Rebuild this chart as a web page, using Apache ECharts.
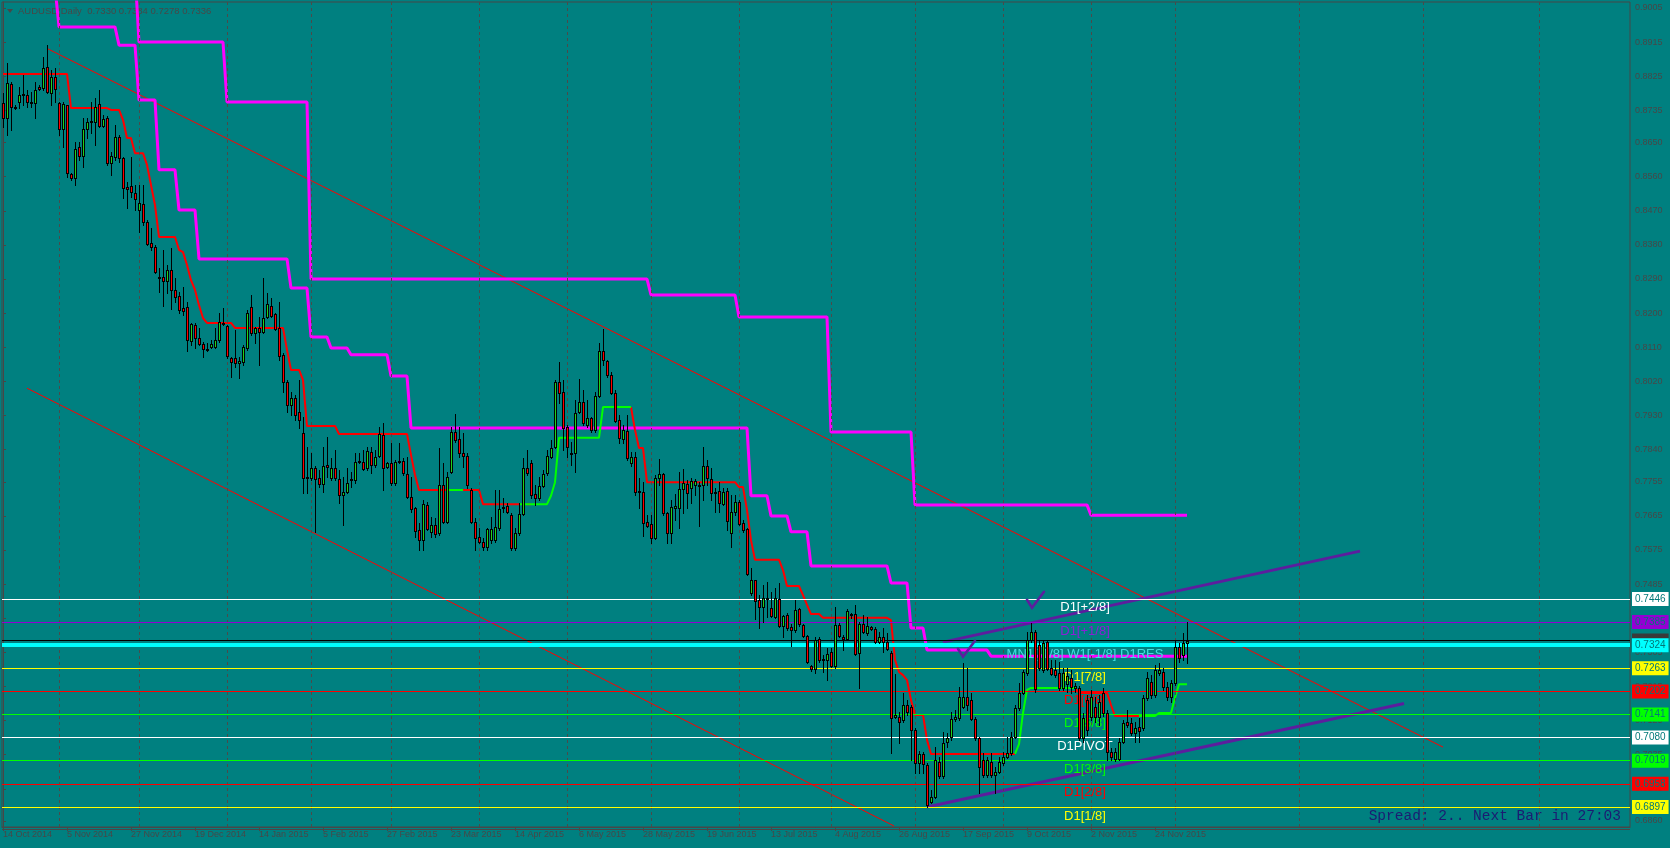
<!DOCTYPE html>
<html><head><meta charset="utf-8">
<script src="https://cdn.jsdelivr.net/npm/echarts@6/dist/echarts.min.js"></script>
<style>html,body{margin:0;padding:0;background:#008080;}#c{width:1670px;height:848px;}</style>
</head><body><div id="c"></div><script>
// ---------------- data ----------------
const symbolName = 'AUDUSD';
const periodName = 'Daily';
const firstDate = '2014-10-14';
const holidays = ['2014-12-25', '2015-01-01'];

const open = [0.8754,0.8715,0.8804,0.8744,0.8757,0.8775,0.8775,0.8757,0.8754,0.8797,0.8794,0.8849,0.8781,0.8823,0.8754,0.8686,0.8749,0.8567,0.8557,0.8638,
0.8615,0.8686,0.8704,0.8704,0.8752,0.8694,0.8715,0.8596,0.8612,0.8665,0.8609,0.8533,0.8535,0.8517,0.8472,0.8488,0.8440,0.8385,0.8374,0.8295,
0.8295,0.8285,0.8314,0.8261,0.8245,0.8214,0.8216,0.8126,0.8169,0.8134,0.8118,0.8105,0.8111,0.8111,0.8129,0.8174,0.8166,0.8082,0.8082,0.8068,
0.8071,0.8108,0.8216,0.8148,0.8161,0.8150,0.8190,0.8219,0.8198,0.8161,0.8090,0.8018,0.7958,0.7976,0.7939,0.7884,0.7768,0.7765,0.7791,0.7765,
0.7749,0.7799,0.7765,0.7791,0.7762,0.7720,0.7728,0.7762,0.7760,0.7810,0.7807,0.7791,0.7834,0.7799,0.7823,0.7878,0.7794,0.7805,0.7752,0.7810,
0.7810,0.7776,0.7715,0.7686,0.7628,0.7601,0.7694,0.7623,0.7641,0.7620,0.7747,0.7649,0.7781,0.7886,0.7868,0.7831,0.7823,0.7733,0.7649,0.7609,
0.7596,0.7583,0.7601,0.7601,0.7633,0.7686,0.7691,0.7667,0.7580,0.7620,0.7670,0.7791,0.7805,0.7723,0.7712,0.7744,0.7778,0.7820,0.7847,0.8018,
0.7992,0.7900,0.7831,0.7831,0.7939,0.7965,0.7905,0.7923,0.7892,0.7981,0.8100,0.8074,0.8037,0.7989,0.7918,0.7868,0.7889,0.7805,0.7820,0.7731,
0.7728,0.7649,0.7644,0.7607,0.7765,0.7776,0.7673,0.7620,0.7686,0.7686,0.7736,0.7749,0.7739,0.7747,0.7747,0.7747,0.7797,0.7762,0.7725,0.7731,
0.7696,0.7731,0.7620,0.7675,0.7702,0.7646,0.7630,0.7462,0.7496,0.7443,0.7425,0.7448,0.7422,0.7398,0.7446,0.7375,0.7404,0.7372,0.7364,0.7419,
0.7377,0.7348,0.7269,0.7261,0.7340,0.7288,0.7285,0.7306,0.7269,0.7377,0.7345,0.7340,0.7406,0.7406,0.7303,0.7380,0.7356,0.7372,0.7367,0.7332,
0.7345,0.7332,0.7303,0.7134,0.7134,0.7127,0.7166,0.7161,0.7100,0.7013,0.7037,0.7008,0.6910,0.6923,0.7016,0.6979,0.7068,0.7082,0.7129,0.7132,
0.7161,0.7187,0.7179,0.7129,0.7079,0.7021,0.6981,0.7016,0.6981,0.6989,0.7013,0.7029,0.7039,0.7082,0.7158,0.7198,0.7251,0.7338,0.7359,0.7324,
0.7258,0.7332,0.7264,0.7258,0.7251,0.7211,0.7221,0.7237,0.7211,0.7211,0.7079,0.7179,0.7134,0.7161,0.7134,0.7198,0.7145,0.7042,0.7024,0.7024,
0.7068,0.7121,0.7119,0.7092,0.7108,0.7105,0.7185,0.7227,0.7192,0.7251,0.7253,0.7214,0.7187,0.7224,0.7319,0.7298,0.7330];

const close = [0.8715,0.8807,0.8744,0.8741,0.8775,0.8778,0.8757,0.8754,0.8789,0.8791,0.8847,0.8783,0.8823,0.8791,0.8686,0.8752,0.8570,0.8557,0.8633,0.8615,
0.8686,0.8704,0.8707,0.8744,0.8694,0.8712,0.8596,0.8615,0.8665,0.8609,0.8530,0.8527,0.8520,0.8501,0.8491,0.8440,0.8382,0.8374,0.8308,0.8293,
0.8285,0.8314,0.8261,0.8243,0.8208,0.8206,0.8129,0.8171,0.8134,0.8118,0.8105,0.8103,0.8118,0.8129,0.8177,0.8171,0.8087,0.8071,0.8068,0.8074,
0.8111,0.8200,0.8148,0.8161,0.8150,0.8187,0.8224,0.8192,0.8158,0.8087,0.8018,0.7958,0.7976,0.7931,0.7918,0.7765,0.7765,0.7791,0.7762,0.7749,
0.7797,0.7794,0.7791,0.7765,0.7720,0.7728,0.7752,0.7760,0.7807,0.7807,0.7789,0.7836,0.7799,0.7820,0.7881,0.7791,0.7805,0.7752,0.7807,0.7807,
0.7778,0.7715,0.7683,0.7625,0.7601,0.7696,0.7630,0.7641,0.7617,0.7747,0.7649,0.7768,0.7886,0.7865,0.7831,0.7823,0.7747,0.7649,0.7607,0.7596,
0.7583,0.7630,0.7630,0.7636,0.7683,0.7688,0.7675,0.7580,0.7620,0.7670,0.7791,0.7778,0.7720,0.7712,0.7744,0.7776,0.7823,0.7844,0.8018,0.7989,
0.7897,0.7847,0.7828,0.7937,0.7965,0.7910,0.7923,0.7892,0.7981,0.8100,0.8076,0.8037,0.7989,0.7915,0.7871,0.7892,0.7818,0.7820,0.7728,0.7728,
0.7646,0.7638,0.7607,0.7765,0.7776,0.7673,0.7620,0.7688,0.7691,0.7736,0.7752,0.7725,0.7757,0.7757,0.7744,0.7797,0.7765,0.7725,0.7728,0.7699,
0.7728,0.7652,0.7675,0.7702,0.7644,0.7628,0.7512,0.7496,0.7440,0.7425,0.7448,0.7446,0.7401,0.7448,0.7375,0.7401,0.7369,0.7364,0.7417,0.7380,
0.7348,0.7280,0.7261,0.7338,0.7285,0.7285,0.7301,0.7269,0.7377,0.7348,0.7340,0.7414,0.7404,0.7301,0.7380,0.7359,0.7375,0.7367,0.7332,0.7345,
0.7332,0.7314,0.7132,0.7140,0.7121,0.7166,0.7148,0.7100,0.7013,0.7037,0.7010,0.6902,0.6923,0.7021,0.6979,0.7066,0.7079,0.7129,0.7134,0.7187,
0.7187,0.7166,0.7129,0.7079,0.7002,0.6981,0.7021,0.6981,0.6989,0.7016,0.7029,0.7039,0.7082,0.7158,0.7198,0.7253,0.7338,0.7359,0.7208,0.7264,
0.7330,0.7261,0.7248,0.7245,0.7211,0.7251,0.7243,0.7214,0.7216,0.7079,0.7132,0.7100,0.7187,0.7134,0.7174,0.7145,0.7042,0.7029,0.7042,0.7068,
0.7119,0.7113,0.7092,0.7105,0.7097,0.7185,0.7237,0.7192,0.7258,0.7258,0.7214,0.7187,0.7224,0.7319,0.7290,0.7330,0.7336];

const high = [0.8781,0.8860,0.8810,0.8749,0.8797,0.8828,0.8789,0.8783,0.8810,0.8802,0.8876,0.8907,0.8841,0.8847,0.8757,0.8757,0.8749,0.8570,0.8651,0.8651,
0.8715,0.8715,0.8757,0.8768,0.8789,0.8723,0.8720,0.8625,0.8696,0.8670,0.8612,0.8546,0.8612,0.8538,0.8538,0.8538,0.8446,0.8425,0.8380,0.8319,
0.8367,0.8327,0.8372,0.8293,0.8256,0.8269,0.8229,0.8174,0.8174,0.8161,0.8124,0.8121,0.8129,0.8161,0.8200,0.8214,0.8169,0.8084,0.8155,0.8084,
0.8116,0.8208,0.8248,0.8163,0.8190,0.8293,0.8253,0.8240,0.8200,0.8229,0.8095,0.8024,0.7992,0.7984,0.8024,0.7926,0.7847,0.7831,0.7797,0.7786,
0.7847,0.7873,0.7818,0.7839,0.7786,0.7768,0.7791,0.7781,0.7831,0.7831,0.7839,0.7847,0.7847,0.7839,0.7900,0.7910,0.7807,0.7857,0.7812,0.7857,
0.7818,0.7820,0.7768,0.7688,0.7646,0.7707,0.7702,0.7662,0.7659,0.7844,0.7805,0.7781,0.7900,0.7934,0.7900,0.7884,0.7831,0.7739,0.7659,0.7633,
0.7607,0.7633,0.7662,0.7733,0.7733,0.7712,0.7699,0.7673,0.7633,0.7699,0.7818,0.7839,0.7812,0.7747,0.7768,0.7786,0.7839,0.7865,0.8024,0.8071,
0.8024,0.7905,0.7860,0.7971,0.8026,0.7997,0.7971,0.7926,0.7992,0.8121,0.8158,0.8076,0.8045,0.7997,0.7931,0.7905,0.7931,0.7834,0.7834,0.7765,
0.7754,0.7667,0.7667,0.7773,0.7815,0.7778,0.7675,0.7707,0.7723,0.7781,0.7789,0.7760,0.7765,0.7762,0.7754,0.7847,0.7812,0.7791,0.7739,0.7754,
0.7739,0.7739,0.7720,0.7720,0.7707,0.7654,0.7633,0.7528,0.7496,0.7456,0.7483,0.7491,0.7464,0.7475,0.7488,0.7404,0.7409,0.7380,0.7443,0.7422,
0.7380,0.7351,0.7272,0.7345,0.7345,0.7298,0.7316,0.7316,0.7425,0.7382,0.7351,0.7419,0.7409,0.7430,0.7385,0.7404,0.7398,0.7375,0.7372,0.7359,
0.7369,0.7356,0.7309,0.7248,0.7148,0.7198,0.7179,0.7166,0.7105,0.7045,0.7042,0.7013,0.6942,0.7055,0.7029,0.7095,0.7092,0.7148,0.7153,0.7214,
0.7277,0.7264,0.7198,0.7134,0.7082,0.7039,0.7029,0.7039,0.7002,0.7029,0.7042,0.7082,0.7095,0.7166,0.7224,0.7258,0.7359,0.7382,0.7364,0.7338,
0.7338,0.7338,0.7285,0.7285,0.7280,0.7264,0.7264,0.7258,0.7224,0.7216,0.7145,0.7192,0.7206,0.7187,0.7192,0.7211,0.7153,0.7053,0.7053,0.7079,
0.7127,0.7153,0.7132,0.7121,0.7132,0.7192,0.7253,0.7245,0.7272,0.7277,0.7264,0.7227,0.7232,0.7338,0.7330,0.7356,0.7384];

const low = [0.8691,0.8670,0.8683,0.8739,0.8741,0.8749,0.8744,0.8744,0.8715,0.8789,0.8789,0.8781,0.8749,0.8757,0.8670,0.8638,0.8559,0.8551,0.8538,0.8604,
0.8586,0.8662,0.8675,0.8644,0.8691,0.8691,0.8591,0.8564,0.8604,0.8599,0.8504,0.8477,0.8506,0.8472,0.8414,0.8432,0.8380,0.8367,0.8306,0.8256,
0.8219,0.8253,0.8211,0.8229,0.8200,0.8195,0.8100,0.8116,0.8108,0.8116,0.8084,0.8100,0.8108,0.8108,0.8124,0.8169,0.8082,0.8031,0.8058,0.8029,
0.8063,0.8103,0.8142,0.8121,0.8063,0.8148,0.8187,0.8190,0.8155,0.8076,0.7992,0.7939,0.7931,0.7918,0.7897,0.7725,0.7725,0.7760,0.7623,0.7741,
0.7728,0.7768,0.7760,0.7760,0.7699,0.7641,0.7725,0.7741,0.7752,0.7805,0.7786,0.7786,0.7778,0.7794,0.7820,0.7733,0.7791,0.7747,0.7747,0.7805,
0.7773,0.7712,0.7675,0.7609,0.7575,0.7575,0.7628,0.7609,0.7609,0.7615,0.7646,0.7646,0.7778,0.7860,0.7820,0.7794,0.7739,0.7646,0.7575,0.7594,
0.7575,0.7575,0.7594,0.7596,0.7628,0.7675,0.7673,0.7575,0.7575,0.7615,0.7667,0.7773,0.7712,0.7694,0.7707,0.7741,0.7773,0.7818,0.7844,0.7963,
0.7839,0.7820,0.7799,0.7781,0.7937,0.7905,0.7900,0.7886,0.7886,0.7979,0.8063,0.8031,0.7987,0.7913,0.7857,0.7857,0.7812,0.7797,0.7720,0.7686,
0.7612,0.7636,0.7594,0.7604,0.7747,0.7667,0.7594,0.7594,0.7654,0.7633,0.7673,0.7686,0.7699,0.7720,0.7638,0.7707,0.7747,0.7707,0.7675,0.7675,
0.7694,0.7628,0.7583,0.7667,0.7641,0.7623,0.7509,0.7456,0.7393,0.7369,0.7385,0.7398,0.7398,0.7396,0.7372,0.7345,0.7364,0.7322,0.7359,0.7375,
0.7345,0.7277,0.7256,0.7251,0.7280,0.7253,0.7232,0.7266,0.7264,0.7345,0.7311,0.7338,0.7396,0.7298,0.7211,0.7356,0.7351,0.7364,0.7330,0.7330,
0.7306,0.7311,0.7039,0.7132,0.7066,0.7121,0.7140,0.7021,0.6987,0.6987,0.6987,0.6897,0.6908,0.6921,0.6974,0.6974,0.7055,0.7074,0.7124,0.7127,
0.7158,0.7153,0.7127,0.7074,0.6934,0.6976,0.6976,0.6976,0.6934,0.6987,0.7008,0.7026,0.7034,0.7079,0.7153,0.7195,0.7245,0.7332,0.7200,0.7258,
0.7253,0.7258,0.7245,0.7240,0.7206,0.7206,0.7200,0.7198,0.7200,0.7074,0.7068,0.7087,0.7127,0.7121,0.7113,0.7137,0.7021,0.7021,0.7018,0.7021,
0.7066,0.7108,0.7087,0.7068,0.7068,0.7100,0.7179,0.7185,0.7187,0.7245,0.7206,0.7179,0.7174,0.7219,0.7280,0.7285,0.7278];

// step indicator lines: [firstBar, lastBar, value]
const magentaInnerSteps = [[0,13,0.9060],[14,28,0.8955],[29,33,0.8907],[34,38,0.8762],[39,43,0.8578],[44,48,0.8472],[49,71,0.8343],[72,76,0.8266],
  [77,81,0.8137],[82,86,0.8108],[87,96,0.8090],[97,101,0.8034],[102,186,0.7897],[187,191,0.7718],[192,196,0.7665],[197,201,0.7623],[202,221,0.7533],
  [222,226,0.7488],[227,230,0.7369],[231,246,0.7311],[247,296,0.7295]];
const magentaOuterSteps = [[0,33,0.9100],[34,55,0.8915],[56,76,0.8757],[77,161,0.8290],[162,183,0.8248],[184,206,0.8190],[207,227,0.7886],[228,271,0.7694],[272,296,0.7667]];
const trailRedSteps = [[0,16,0.8831],[17,26,0.8741],[27,29,0.8736],[30,30,0.8710],[31,32,0.8662],[33,35,0.8622],[36,36,0.8591],[37,37,0.8538],[38,38,0.8485],
  [39,43,0.8401],[44,44,0.8367],[45,45,0.8361],[46,46,0.8327],[47,47,0.8287],[48,48,0.8261],[49,49,0.8221],[50,50,0.8187],[51,57,0.8174],[58,70,0.8161],
  [71,71,0.8103],[72,74,0.8050],[75,75,0.8024],[76,83,0.7902],[84,101,0.7881],[102,102,0.7826],[103,103,0.7773],[104,111,0.7733],
  [115,119,0.7733],[120,129,0.7696],[131,132,0.7696],
  [157,157,0.7952],[158,158,0.7892],[159,160,0.7844],[161,183,0.7754],[184,185,0.7741],[186,186,0.7681],[187,187,0.7601],[188,194,0.7549],[195,195,0.7522],
  [196,199,0.7480],[200,200,0.7456],[201,201,0.7430],[202,204,0.7406],[205,221,0.7396],[222,222,0.7390],[223,223,0.7285],[224,224,0.7253],[225,225,0.7245],
  [226,226,0.7232],[227,227,0.7179],[228,230,0.7140],[231,231,0.7074],[232,253,0.7037],
  [268,268,0.7211],[269,276,0.7198],[277,277,0.7166],[278,284,0.7137]];
const trailGreenSteps = [[111,115,0.7733],[129,131,0.7696],[132,136,0.7696],[137,137,0.7718],[138,138,0.7754],[139,149,0.7871],[150,157,0.7952],
  [253,253,0.7037],[254,254,0.7063],[255,255,0.7145],[256,256,0.7206],[257,268,0.7211],
  [284,288,0.7137],[289,292,0.7145],[293,293,0.7185],[294,296,0.7221]];

// drawn lines: [bar, price] end points
const channelUpper = [[11.25,0.8897],[360,0.7055]];
const channelLower = [[6,0.8002],[222.75,0.6847]];
const risingLower = [[231,0.6897],[350.25,0.7170]];
const risingUpper = [[235,0.7332],[339.25,0.7572]];
const checkMarks = [[258,0.7441],[240.75,0.7312]];

// Murrey levels
const levelValues = [0.7446,0.7385,0.7324,0.7263,0.7202,0.7141,0.7080,0.7019,0.6958,0.6897];
const levelNames = ['D1[+2/8]','D1[+1/8]','MN1[-1/8] W1[-1/8] D1RES','D1[7/8]','D1[6/8]','D1[5/8]','D1PIVOT','D1[3/8]','D1[2/8]','D1[1/8]'];
const levelLabelBar = 270.5;
const bidPrice = 0.7336;

// axes
const priceTicks = [0.9005,0.8915,0.8825,0.8735,0.8650,0.8560,0.8470,0.8380,0.8290,0.8200,0.8110,0.8020,0.7930,0.7840,0.7755,0.7665,0.7575,0.7485,0.7395,0.7305,0.7215,0.7125,0.7035,0.6945,0.6860];
const priceMin = 0.68442, priceMax = 0.90208;
const barMin = -0.25, barMax = 406.75;
const dateLabelStep = 16;
const spreadText = 'Spread: 2.. Next Bar in 27:03';

// ---------------- styles ----------------
const levelColors = ['#ffffff','#9400d3','#00ffff','#ffff00','#ff0000','#00ff00','#ffffff','#00ff00','#ff0000','#ffff00'];
const levelTextColors = ['#ffffff','#8a1fd6','#40e0e0','#ffff00','#ff0000','#00ff00','#ffffff','#00ff00','#ff0000','#ffff00'];
const levelWidths = [1,1,4,1,1,1,1,1,1,1];
const axisColor = '#474747';
const bullColor = '#1ed21e', bearColor = '#ff0000';
const purple = '#5c1e9e';

// ---------------- derived ----------------
const nBars = open.length;
const MON = ['Jan','Feb','Mar','Apr','May','Jun','Jul','Aug','Sep','Oct','Nov','Dec'];
const dates = [];
(function(){
  const d = new Date(firstDate + 'T00:00:00Z');
  while (dates.length < nBars) {
    const wd = d.getUTCDay(), iso = d.toISOString().slice(0,10);
    if (wd !== 0 && wd !== 6 && holidays.indexOf(iso) < 0) dates.push(new Date(d));
    d.setUTCDate(d.getUTCDate() + 1);
  }
})();
const fmtDate = d => d.getUTCDate() + ' ' + MON[d.getUTCMonth()] + ' ' + d.getUTCFullYear();
const labelIdx = [];
for (let i = 0; i < nBars; i += dateLabelStep) labelIdx.push(i);
const monthStarts = [];
for (let i = 1; i < nBars; i++) if (dates[i].getUTCMonth() !== dates[i-1].getUTCMonth()) monthStarts.push(i);
(function(){
  const lastD = dates[nBars-1];
  for (let k = 1; nBars - 1 + k <= barMax; k++) {
    const d = new Date(lastD); d.setUTCDate(d.getUTCDate() + k);
    if (d.getUTCDate() === 1) monthStarts.push(nBars - 1 + k);
  }
})();
function expand(steps) {
  const a = new Array(nBars).fill('-');
  steps.forEach(([s,e,v]) => { for (let i = s; i <= e; i++) a[i] = v; });
  return a.map((v,i) => [i, v]);
}
const candleData = open.map((o,i) => [i, o, close[i], low[i], high[i]]);
const last = nBars - 1;
const titleText = symbolName + ',' + periodName + '  ' + open[last].toFixed(4) + ' ' + high[last].toFixed(4) + ' ' + low[last].toFixed(4) + ' ' + close[last].toFixed(4);

function renderCandle(params, api) {
  const i = api.value(0), o = api.value(1), c = api.value(2), l = api.value(3), h = api.value(4);
  const pO = api.coord([i,o]), pC = api.coord([i,c]), pL = api.coord([i,l]), pH = api.coord([i,h]);
  const cx = Math.round(pO[0]);
  const yH = Math.round(pH[1]), yL = Math.round(pL[1]);
  const yT = Math.round(Math.min(pO[1], pC[1])), yB = Math.round(Math.max(pO[1], pC[1]));
  const ch = [
    {type:'rect', shape:{x:cx, y:yH, width:1, height:Math.max(1, yL - yH + 1)}, style:{fill:'#000'}},
    {type:'rect', shape:{x:cx-1, y:yT, width:3, height:Math.max(1, yB - yT + 1)}, style:{fill:'#000'}}
  ];
  if (yB - yT >= 2) ch.push({type:'rect', shape:{x:cx, y:yT+1, width:1, height:yB - yT - 1}, style:{fill: c >= o ? bullColor : bearColor}});
  return {type:'group', children: ch};
}

function renderCheck(params, api) {
  const p = api.coord([api.value(0), api.value(1)]);
  return {type:'polyline', x:p[0], y:p[1], shape:{points:[[-8,-1],[-3,7],[9,-9]]},
    style:{stroke:purple, lineWidth:2.6, fill:null, lineJoin:'miter', lineCap:'round'}};
}

const tagLabel = (bg, fg) => ({show:true, position:'end', distance:2, formatter: p => Number(p.value).toFixed(4),
  backgroundColor:bg, color:fg || '#007878', fontSize:10, fontFamily:'Liberation Sans', lineHeight:11, padding:[2,3,1,3]});

const lineSeries = (data, color, width, z, type) => ({type:'line', data, showSymbol:false, symbol:'none', clip:true, silent:true, z,
  lineStyle:{color, width, type: type || 'solid'}, connectNulls:false, animation:false});

const chart = echarts.init(document.getElementById('c'), null, {renderer:'canvas', width:1670, height:848});
chart.setOption({
  backgroundColor:'#008080',
  animation:false,
  grid:{left:2, top:2, right:40, bottom:21, show:true, borderColor:axisColor, borderWidth:1, backgroundColor:'transparent'},
  xAxis:{type:'value', min:barMin, max:barMax,
    axisLine:{show:true, lineStyle:{color:axisColor}},
    axisTick:{show:true, customValues:labelIdx, length:4, lineStyle:{color:axisColor}},
    axisLabel:{show:true, customValues:labelIdx, formatter: v => { const k = Math.round(v); return dates[k] ? fmtDate(dates[k]) : ''; },
      align:'left', color:axisColor, fontSize:9, fontFamily:'Liberation Sans', margin:3},
    splitLine:{show:false}},
  yAxis:{type:'value', position:'right', min:priceMin, max:priceMax, scale:true,
    axisLine:{show:true, lineStyle:{color:axisColor}},
    axisTick:{show:true, customValues:priceTicks, length:3, lineStyle:{color:axisColor}},
    axisLabel:{show:true, customValues:priceTicks, formatter: v => Number(v).toFixed(4), color:axisColor, fontSize:9, fontFamily:'Liberation Sans', margin:5},
    splitLine:{show:false}},
  graphic:[
    {type:'rect', shape:{x:2, y:829, width:1628, height:1}, style:{fill:axisColor}, silent:true},
    {type:'polygon', shape:{points:[[7,9],[13,9],[10,13]]}, style:{fill:axisColor}, silent:true},
    {type:'text', x:18, y:11, style:{text:titleText, fill:axisColor, font:'9.5px "Liberation Sans"', verticalAlign:'middle'}, silent:true},
    {type:'text', x:1621, y:816, style:{text:spreadText, fill:'#1b1b72', font:'14.5px "Liberation Mono"', align:'right', verticalAlign:'middle'}, silent:true}
  ],
  series:[
    {type:'line', data:[], z:1, silent:true, markLine:{symbol:['none','none'], precision:4, silent:true, animation:false, label:{show:false},
      lineStyle:{color:'#4a4a4a', width:1, type:[3,3]}, data: monthStarts.map(i => ({xAxis: i + 0.125}))}},
    {type:'line', data:[], z:2, silent:true, markLine:{symbol:['none','none'], precision:4, silent:true, animation:false,
      data:[{yAxis:bidPrice, lineStyle:{color:'#000000', width:1, type:'solid'}, label:tagLabel('#3a3a3a','#3a3a3a')}]}},
    {type:'line', data:[], z:2, silent:true, markLine:{symbol:['none','none'], precision:4, silent:true, animation:false,
      data: levelValues.map((v,k) => ({yAxis:v, lineStyle:{color:levelColors[k], width:levelWidths[k], type:'solid'}, label:tagLabel(levelColors[k])}))}},
    lineSeries(channelUpper, '#ff0000', 1, 3),
    lineSeries(channelLower, '#ff0000', 1, 3),
    lineSeries(risingLower, purple, 3, 3),
    lineSeries(risingUpper, purple, 3, 3),
    lineSeries(expand(magentaOuterSteps), '#ff00ff', 3, 4),
    lineSeries(expand(magentaInnerSteps), '#ff00ff', 3, 4),
    lineSeries(expand(trailRedSteps), '#ff0000', 2, 4),
    lineSeries(expand(trailGreenSteps), '#00ff00', 2, 4),
    {type:'custom', z:5, silent:true, clip:true, data: levelValues.map((v,k) => [levelLabelBar, v, k]),
      renderItem:(params, api) => { const p = api.coord([api.value(0), api.value(1)]); const k = api.value(2);
        return {type:'text', x:p[0], y:p[1] + 9, style:{text:levelNames[k], fill:levelTextColors[k], font:'13px "Liberation Sans"', align:'center', verticalAlign:'middle'}}; }},
    {type:'custom', z:6, silent:true, clip:true, data:candleData, encode:{x:0, y:[1,2,3,4]}, renderItem:renderCandle},
    {type:'custom', z:7, silent:true, clip:true, data:checkMarks, renderItem:renderCheck}
  ]
});
</script></body></html>
